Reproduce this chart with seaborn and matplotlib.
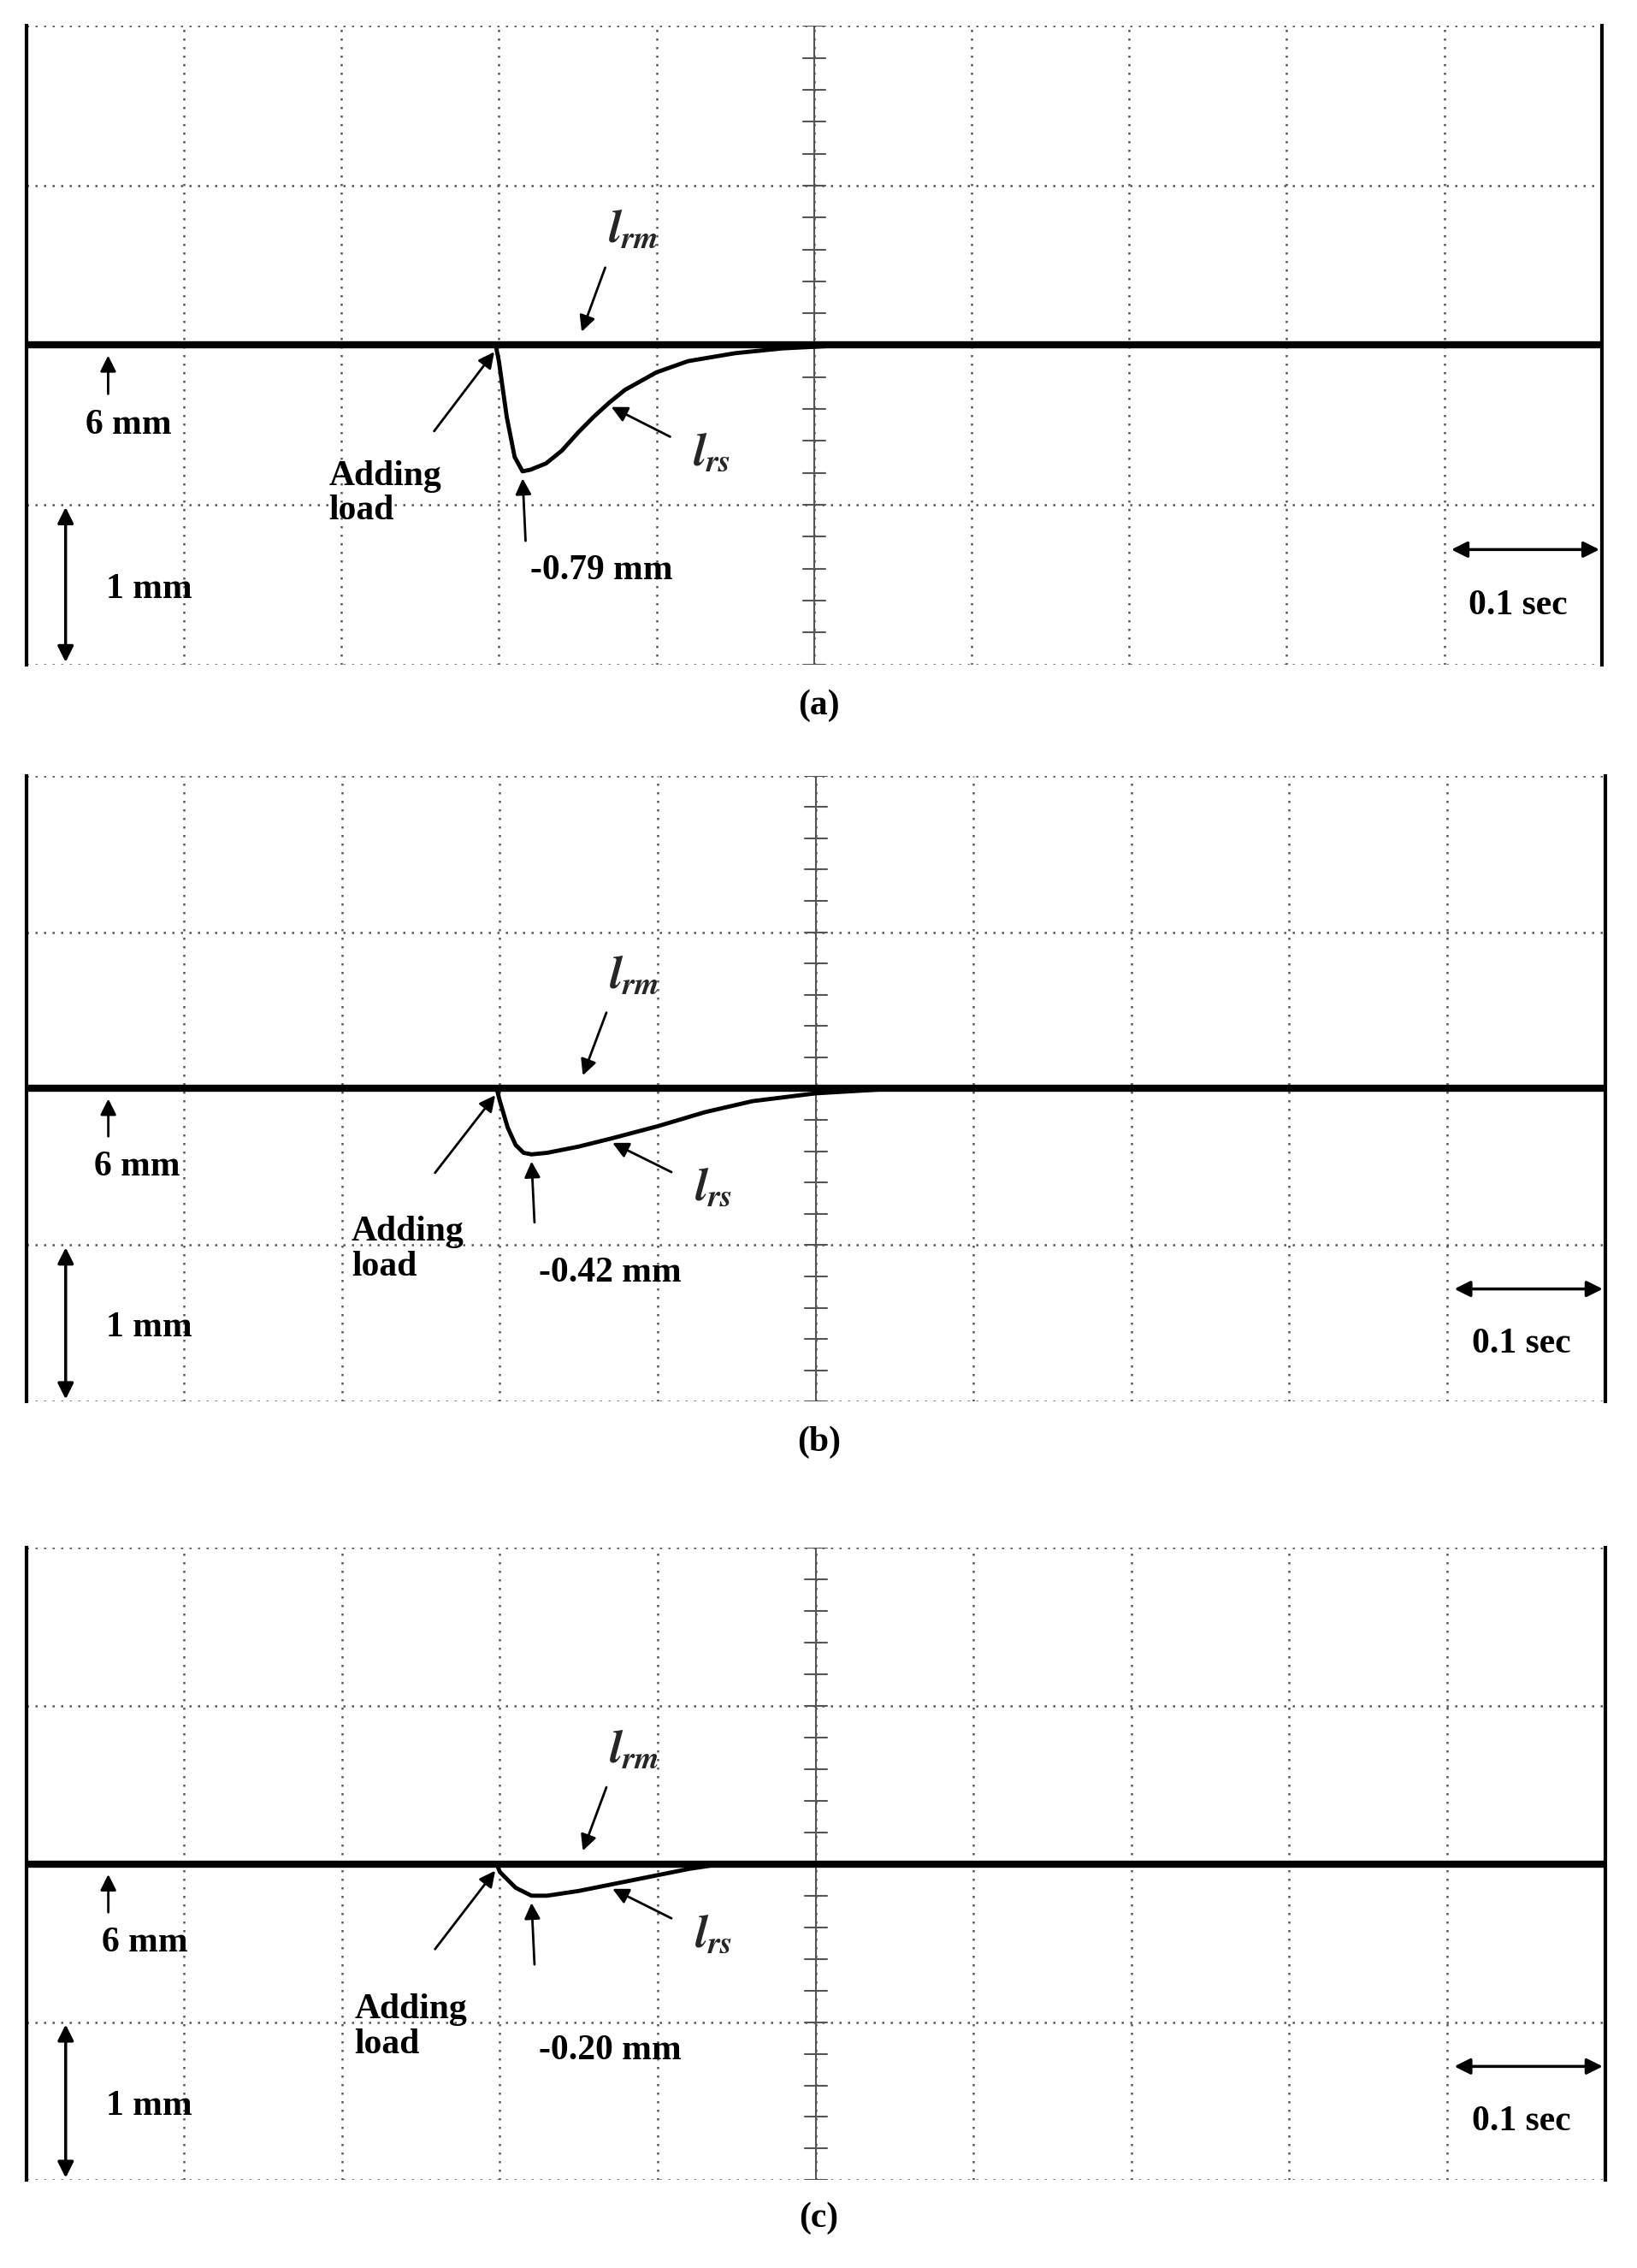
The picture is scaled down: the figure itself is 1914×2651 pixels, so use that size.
import matplotlib
matplotlib.use("Agg")
import matplotlib.pyplot as plt
import seaborn as sns
import numpy as np
import pandas as pd

sns.set_style("white")
plt.rcParams['font.family'] = ['Liberation Serif', 'DejaVu Serif']
plt.rcParams['mathtext.fontset'] = 'stix'

baseline_mm = 6.0
baseline_t = [0.0, 1.0]
# l_rs traces (time s, deviation mm)
t_a = [0.298, 0.300, 0.305, 0.31, 0.315, 0.32, 0.33, 0.34, 0.35, 0.36, 0.37, 0.38, 0.40, 0.42, 0.45, 0.48, 0.52]
d_a = [0, -0.10, -0.45, -0.70, -0.79, -0.78, -0.74, -0.66, -0.55, -0.45, -0.36, -0.28, -0.17, -0.10, -0.05, -0.02, 0]
t_b = [0.298, 0.300, 0.305, 0.31, 0.315, 0.32, 0.33, 0.35, 0.37, 0.40, 0.43, 0.46, 0.50, 0.55]
d_b = [0, -0.08, -0.25, -0.36, -0.41, -0.42, -0.41, -0.37, -0.32, -0.24, -0.15, -0.08, -0.03, 0]
t_c = [0.298, 0.300, 0.31, 0.32, 0.33, 0.35, 0.37, 0.40, 0.42, 0.44]
d_c = [0, -0.05, -0.15, -0.20, -0.20, -0.17, -0.13, -0.07, -0.03, 0]
min_labels = ["-0.79 mm", "-0.42 mm", "-0.20 mm"]
panel_labels = ["(a)", "(b)", "(c)"]

fig = plt.figure(figsize=(19.15, 26.51), dpi=100)
rects = [(0.016, 0.707, 0.962, 0.2816), (0.016, 0.382, 0.964, 0.276), (0.016, 0.0387, 0.964, 0.2788)]
lab_y = [0.689, 0.364, 0.022]
curves = [(t_a, d_a), (t_b, d_b), (t_c, d_c)]
FS = 30
bold = dict(fontsize=FS, fontweight='bold', color='black')

for i, (r, (tt, dd)) in enumerate(zip(rects, curves)):
    ax = fig.add_axes(r)
    ax.set_xlim(0, 1.0)
    ax.set_ylim(4, 8)
    ax.set_xticks(np.arange(0, 1.01, 0.1))
    ax.set_yticks(np.arange(4, 8.01, 1))
    ax.tick_params(length=0, labelleft=False, labelbottom=False)
    ax.grid(True, linestyle=(0, (1, 3)), color='#555555', linewidth=1.8)
    for s in ['top', 'bottom']:
        ax.spines[s].set_visible(False)
    for s in ['left', 'right']:
        ax.spines[s].set_linewidth(3)
        ax.spines[s].set_color('black')
    ax.axvline(0.5, color='#555555', lw=1.5)
    for yy in np.arange(4, 8.01, 0.2):
        ax.plot([0.493, 0.507], [yy, yy], color='#555555', lw=1.5)
    df0 = pd.DataFrame({'t': baseline_t, 'y': [baseline_mm] * 2})
    sns.lineplot(data=df0, x='t', y='y', ax=ax, color='black', lw=6)
    df = pd.DataFrame({'t': tt, 'y': [baseline_mm + v for v in dd]})
    sns.lineplot(data=df, x='t', y='y', ax=ax, color='black', lw=3.5, sort=False)
    ax.set_xlabel(''); ax.set_ylabel('')
    imin = int(np.argmin(dd))
    tmin, ymin = tt[imin], baseline_mm + dd[imin]
    ap = dict(arrowstyle='-|>', color='black', lw=2, mutation_scale=28)
    ax.annotate('', xy=(0.352, 6.07), xytext=(0.368, 6.5), arrowprops=ap)
    ax.text(0.385, 6.72, r'$\mathbfit{l}_{\mathbfit{rm}}$', fontsize=38, ha='center', va='center')
    ax.annotate('', xy=(0.052, 5.95), xytext=(0.052, 5.68), arrowprops=ap)
    ax.text(0.065 + 0.005 * i, 5.5, '6 mm', ha='center', va='center', **bold)
    ax.annotate('', xy=(0.298, 5.97), xytext=(0.258, 5.45), arrowprops=ap)
    ax.text(0.192 + 0.012 * min(i, 1) + 0.002 * i, 5.07 - 0.1 * (i > 0), 'Adding\nload', ha='left', va='center', linespacing=1.1, **bold)
    ax.annotate('', xy=(tmin, ymin - 0.03), xytext=(tmin + 0.002, ymin - 0.45), arrowprops=ap)
    ax.text(tmin + 0.05, ymin - 0.62 if i == 0 else 4.82, min_labels[i], ha='center', va='center', **bold)
    k = min(range(len(tt)), key=lambda j: abs(tt[j] - 0.37))
    ax.annotate('', xy=(tt[k], baseline_mm + dd[k] - 0.02), xytext=(0.41, baseline_mm + dd[k] - 0.22), arrowprops=ap)
    ax.text(0.435, baseline_mm + dd[k] - 0.32, r'$\mathbfit{l}_{\mathbfit{rs}}$', fontsize=38, ha='center', va='center')
    ap2 = dict(arrowstyle='<|-|>', color='black', lw=2.5, mutation_scale=28)
    ax.annotate('', xy=(0.025, 4.0), xytext=(0.025, 5.0), arrowprops=ap2)
    ax.text(0.078, 4.47, '1 mm', ha='center', va='center', **bold)
    ax.annotate('', xy=(0.903, 4.72), xytext=(1.0, 4.72), arrowprops=ap2)
    ax.text(0.947, 4.37, '0.1 sec', ha='center', va='center', **bold)
    fig.text(0.5, lab_y[i], panel_labels[i], ha='center', va='center', **bold)

fig.savefig('out.png', dpi=100, facecolor='white')
